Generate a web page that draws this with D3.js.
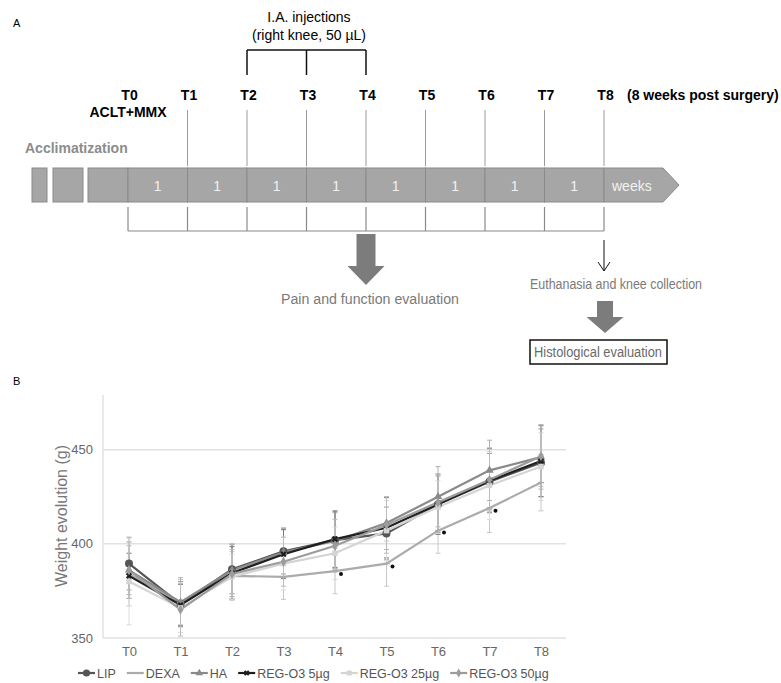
<!DOCTYPE html>
<html>
<head>
<meta charset="utf-8">
<script src="https://cdn.jsdelivr.net/npm/d3@7"></script>
<style>
  body { margin: 0; background: #fff; }
  svg { font-family: "Liberation Sans", Arial, sans-serif; display: block; }
</style>
</head>
<body>
<div id="chart"></div>
<script>
// ---- panel A : study timeline ----
const timepoints = ["T0", "T1", "T2", "T3", "T4", "T5", "T6", "T7", "T8"];
const weekLabels = ["1", "1", "1", "1", "1", "1", "1", "1"];
const injectionPoints = ["T2", "T3", "T4"];

// ---- panel B : weight evolution (g) ----
const seriesNames = ["LIP", "DEXA", "HA", "REG-O3 5µg", "REG-O3 25µg", "REG-O3 50µg"];
const lipMean   = [389.5, 368, 386.5, 396, 402, 405.5, 421, 433, 443];
const dexaMean  = [384, 369, 383, 382.5, 385.5, 389.5, 407, 419, 432.5];
const haMean    = [386, 369, 386, 395.5, 401.5, 411, 425, 439, 446];
const reg5Mean  = [383, 367.5, 384.5, 394.5, 402.5, 408.5, 421, 433.5, 444];
const reg25Mean = [380, 366, 382.5, 389.5, 395, 407, 419.5, 431, 441];
const reg50Mean = [386, 365, 384, 390.5, 399, 410, 422, 434, 446.5];

const lipSd   = [14, 12, 13, 12, 15, 14, 15, 15, 18];
const dexaSd  = [17, 12, 13, 12, 12, 12, 12, 13, 15];
const haSd    = [13, 13, 14, 13, 15, 14, 16, 16, 17];
const reg5Sd  = [12, 11, 14, 13, 15, 16, 16, 17, 19];
const reg25Sd = [23, 13, 12, 14, 14, 16, 14, 18, 18];
const reg50Sd = [15, 14, 13, 13, 14, 15, 15, 17, 16];

// significance marks (vs LIP) on DEXA
const sigTimes  = ["T4", "T5", "T6", "T7"];
const sigValues = [384, 388, 406, 417.5];

const yTicks = [350, 400, 450];

const W = 781, H = 683;
const svg = d3.select("#chart").append("svg")
  .attr("width", W)
  .attr("height", H);

svg.append("rect").attr("width", W).attr("height", H).attr("fill", "#fff");

// ===================== panel A =====================
const weekX = d3.scaleLinear().domain([0, 8]).range([128, 604]);
const tIndex = (t) => timepoints.indexOf(t);

svg.append("text").attr("x", 13).attr("y", 27)
  .style("font-size", "11px").text("A");

// injection bracket
const injX = injectionPoints.map((t) => weekX(tIndex(t)));
const bracket = svg.append("g").attr("stroke", "#111").attr("stroke-width", 1.5).attr("fill", "none");
bracket.append("line").attr("x1", d3.min(injX)).attr("x2", d3.max(injX)).attr("y1", 50).attr("y2", 50);
bracket.selectAll("line.v").data(injX).join("line").attr("class", "v")
  .attr("x1", (d) => d).attr("x2", (d) => d).attr("y1", 50).attr("y2", 75);

svg.append("text").attr("x", 309).attr("y", 22).attr("text-anchor", "middle")
  .style("font-size", "14px").text("I.A. injections");
svg.append("text").attr("x", 309).attr("y", 40).attr("text-anchor", "middle")
  .style("font-size", "14px").text("(right knee, 50 µL)");

// timepoint labels
svg.selectAll("text.tp").data(timepoints).join("text").attr("class", "tp")
  .attr("x", (d, i) => weekX(i) + 1.5).attr("y", 100)
  .attr("text-anchor", "middle")
  .style("font-size", "14px").style("font-weight", "bold")
  .text((d) => d);
svg.append("text").attr("x", 128).attr("y", 117).attr("text-anchor", "middle")
  .style("font-size", "14px").style("font-weight", "bold").text("ACLT+MMX");
svg.append("text").attr("x", 627).attr("y", 100)
  .style("font-size", "14px").style("font-weight", "bold").text("(8 weeks post surgery)");
svg.append("text").attr("x", 25).attr("y", 153)
  .style("font-size", "14px").style("font-weight", "bold").attr("fill", "#8c8c8c")
  .text("Acclimatization");

// thin drop lines T1..T8
svg.selectAll("line.drop").data(timepoints.slice(1)).join("line").attr("class", "drop")
  .attr("x1", (d) => weekX(tIndex(d))).attr("x2", (d) => weekX(tIndex(d)))
  .attr("y1", 110).attr("y2", 166)
  .attr("stroke", "#9a9a9a").attr("stroke-width", 1);

// timeline bar
const barY = 168, barH = 34;
const bar = svg.append("g").attr("fill", "#a6a6a6").attr("stroke", "#8a8a8a").attr("stroke-width", 1);
bar.append("rect").attr("x", 32).attr("y", barY).attr("width", 15).attr("height", barH);
bar.append("rect").attr("x", 53).attr("y", barY).attr("width", 30).attr("height", barH);
bar.append("rect").attr("x", 88).attr("y", barY).attr("width", weekX(0) - 88).attr("height", barH);
bar.selectAll("rect.wk").data(weekLabels).join("rect").attr("class", "wk")
  .attr("x", (d, i) => weekX(i)).attr("y", barY)
  .attr("width", weekX(1) - weekX(0)).attr("height", barH);
bar.append("path")
  .attr("d", `M${weekX(8)},${barY}H663L679,${barY + barH / 2}L663,${barY + barH}H${weekX(8)}Z`);

svg.selectAll("text.wk").data(weekLabels).join("text").attr("class", "wk")
  .attr("x", (d, i) => (weekX(i) + weekX(i + 1)) / 2).attr("y", 191)
  .attr("text-anchor", "middle").attr("fill", "#f2f2f2")
  .style("font-size", "14px").text((d) => d);
svg.append("text").attr("x", 612).attr("y", 191).attr("fill", "#f2f2f2")
  .style("font-size", "14px").text("weeks");

// lower bracket (evaluation each week)
const lower = svg.append("g").attr("stroke", "#8a8a8a").attr("stroke-width", 1.2);
lower.selectAll("line").data(timepoints).join("line")
  .attr("x1", (d, i) => weekX(i)).attr("x2", (d, i) => weekX(i))
  .attr("y1", 207).attr("y2", 231);
lower.append("line").attr("x1", weekX(0)).attr("x2", weekX(8)).attr("y1", 231).attr("y2", 231);

function blockArrow(cx, top, shaftBottom, tip, shaftHalf, headHalf) {
  return `M${cx - shaftHalf},${top}H${cx + shaftHalf}V${shaftBottom}H${cx + headHalf}` +
         `L${cx},${tip}L${cx - headHalf},${shaftBottom}H${cx - shaftHalf}Z`;
}

svg.append("path").attr("d", blockArrow(weekX(4), 234, 266, 285, 9.5, 18.5)).attr("fill", "#7c7c7c");
svg.append("text").attr("x", 370).attr("y", 304).attr("text-anchor", "middle")
  .attr("fill", "#7a7a7a").style("font-size", "14px")
  .attr("textLength", 178).attr("lengthAdjust", "spacingAndGlyphs")
  .text("Pain and function evaluation");

// euthanasia
const ex = weekX(8);
svg.append("line").attr("x1", ex).attr("x2", ex).attr("y1", 240).attr("y2", 271)
  .attr("stroke", "#111").attr("stroke-width", 1);
svg.append("path").attr("d", `M${ex - 6},${262}L${ex},${271}L${ex + 6},${262}`)
  .attr("fill", "none").attr("stroke", "#111").attr("stroke-width", 1);
svg.append("text").attr("x", 616).attr("y", 289).attr("text-anchor", "middle")
  .attr("fill", "#7a7a7a").style("font-size", "14px")
  .attr("textLength", 172).attr("lengthAdjust", "spacingAndGlyphs")
  .text("Euthanasia and knee collection");

svg.append("path").attr("d", blockArrow(605, 301, 317, 333, 8, 18.5)).attr("fill", "#7c7c7c");
svg.append("rect").attr("x", 530).attr("y", 340).attr("width", 137).attr("height", 24)
  .attr("fill", "#fff").attr("stroke", "#111").attr("stroke-width", 1.5);
svg.append("text").attr("x", 598).attr("y", 357).attr("text-anchor", "middle")
  .attr("fill", "#6a6a6a").style("font-size", "14px")
  .attr("textLength", 128).attr("lengthAdjust", "spacingAndGlyphs")
  .text("Histological evaluation");

svg.append("text").attr("x", 13).attr("y", 385)
  .style("font-size", "11px").text("B");

// ===================== panel B =====================
const plotL = 103, plotR = 566, plotT = 395, plotB = 638;
const x = d3.scalePoint().domain(timepoints).range([129, 541]);
const y = d3.scaleLinear().domain([350, 479]).range([plotB, plotT]);

// grid
svg.append("g").selectAll("line").data(yTicks).join("line")
  .attr("x1", plotL).attr("x2", plotR)
  .attr("y1", (d) => y(d)).attr("y2", (d) => y(d))
  .attr("stroke", "#e2e2e2").attr("stroke-width", 1.5);
svg.append("line").attr("x1", plotL).attr("x2", plotL).attr("y1", plotT).attr("y2", plotB)
  .attr("stroke", "#e2e2e2").attr("stroke-width", 1.5);

// axes
const yAxis = svg.append("g").attr("transform", `translate(${plotL},0)`)
  .call(d3.axisLeft(y).tickValues(yTicks).tickSize(0).tickPadding(10));
yAxis.select(".domain").remove();
yAxis.selectAll("text").style("font-size", "13px").attr("fill", "#666");

const xAxis = svg.append("g").attr("transform", `translate(0,${plotB})`)
  .call(d3.axisBottom(x).tickSize(0).tickPadding(9));
xAxis.select(".domain").remove();
xAxis.selectAll("text").style("font-size", "13px").attr("fill", "#666");

svg.append("text")
  .attr("transform", `translate(67,516) rotate(-90)`)
  .attr("text-anchor", "middle").attr("fill", "#777")
  .style("font-size", "16px").text("Weight evolution (g)");

const means = [lipMean, dexaMean, haMean, reg5Mean, reg25Mean, reg50Mean];
const sds = [lipSd, dexaSd, haSd, reg5Sd, reg25Sd, reg50Sd];
const colors = ["#555555", "#ababab", "#8a8a8a", "#1e1e1e", "#d4d4d4", "#9c9c9c"];
const errColors = ["#9a9a9a", "#c8c8c8", "#b0b0b0", "#777777", "#dadada", "#bcbcbc"];
const shapes = [d3.symbolCircle, null, d3.symbolTriangle, d3.symbolCross, d3.symbolSquare, d3.symbolDiamond];

const series = seriesNames.map((name, s) => ({
  name,
  color: colors[s],
  errColor: errColors[s],
  shape: shapes[s],
  points: timepoints.map((t, i) => ({ t, v: means[s][i], sd: sds[s][i] })),
}));

// error bars
const err = svg.append("g");
series.forEach((s) => {
  const g = err.append("g").attr("stroke", s.errColor).attr("stroke-width", 1);
  g.selectAll("line.bar").data(s.points).join("line").attr("class", "bar")
    .attr("x1", (d) => x(d.t)).attr("x2", (d) => x(d.t))
    .attr("y1", (d) => y(d.v - d.sd)).attr("y2", (d) => y(d.v + d.sd));
  ["lo", "hi"].forEach((k) => {
    g.selectAll(`line.${k}`).data(s.points).join("line").attr("class", k)
      .attr("x1", (d) => x(d.t) - 2.5).attr("x2", (d) => x(d.t) + 2.5)
      .attr("y1", (d) => y(k === "lo" ? d.v - d.sd : d.v + d.sd))
      .attr("y2", (d) => y(k === "lo" ? d.v - d.sd : d.v + d.sd));
  });
});

// lines
const line = d3.line().x((d) => x(d.t)).y((d) => y(d.v));
svg.append("g").selectAll("path").data(series).join("path")
  .attr("d", (d) => line(d.points))
  .attr("fill", "none")
  .attr("stroke", (d) => d.color)
  .attr("stroke-width", 2.2);

// markers
function drawMarker(g, s, cx, cy, scale) {
  if (!s.shape) {
    g.append("line").attr("x1", cx - 3 * scale).attr("x2", cx + 3 * scale)
      .attr("y1", cy).attr("y2", cy).attr("stroke", s.color).attr("stroke-width", 1.5);
    return;
  }
  const sizes = { LIP: 50, HA: 30, "REG-O3 5µg": 24, "REG-O3 25µg": 30, "REG-O3 50µg": 30 };
  g.append("path")
    .attr("d", d3.symbol().type(s.shape).size(sizes[s.name] * scale * scale)())
    .attr("transform", `translate(${cx},${cy})` + (s.shape === d3.symbolCross ? " rotate(45)" : ""))
    .attr("fill", s.color);
}
const mk = svg.append("g");
series.forEach((s) => {
  s.points.forEach((p) => drawMarker(mk, s, x(p.t), y(p.v), 1));
});

// significance dots
svg.append("g").selectAll("circle").data(sigTimes).join("circle")
  .attr("cx", (d) => x(d) + 6)
  .attr("cy", (d, i) => y(sigValues[i]))
  .attr("r", 2)
  .attr("fill", "#111");

// legend
const legend = svg.append("g").attr("transform", "translate(78,673)");
let lx = 0;
series.forEach((s) => {
  const item = legend.append("g").attr("transform", `translate(${lx},0)`);
  item.append("line").attr("x1", 0).attr("x2", 17).attr("y1", 0).attr("y2", 0)
    .attr("stroke", s.color).attr("stroke-width", 2.2);
  drawMarker(item, s, 8.5, 0, 0.9);
  const txt = item.append("text").attr("x", 19).attr("y", 4.5)
    .attr("fill", "#555").style("font-size", "12.5px").text(s.name);
  lx += 19 + txt.node().getComputedTextLength() + 11;
});
</script>
</body>
</html>
